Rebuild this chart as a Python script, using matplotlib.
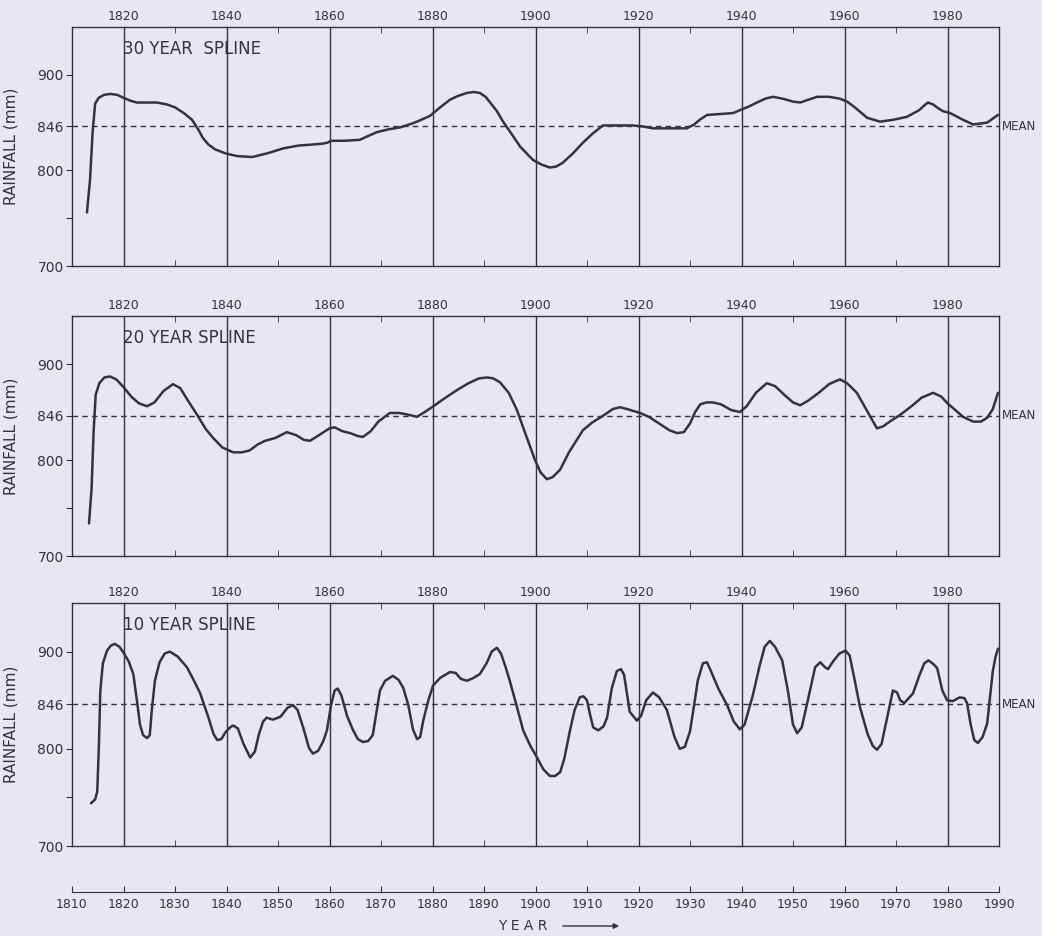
import matplotlib
matplotlib.use('Agg')
import matplotlib.pyplot as plt
import matplotlib.transforms as mtransforms
from matplotlib.patches import FancyArrowPatch

# values (year, rainfall mm)
years30 = [1812.9, 1813.5, 1814.0, 1814.5, 1815.2, 1816.2, 1817.4, 1818.8, 1820.0, 1821.3,
           1822.6, 1824.5, 1826.5, 1828.4, 1830.0, 1831.7, 1833.3, 1834.5, 1835.4, 1836.5,
           1837.8, 1839.7, 1842.0, 1845.0, 1848.0, 1851.0, 1854.0, 1856.5, 1858.7, 1859.6,
           1860.3, 1863.0, 1865.9, 1867.5, 1869.2, 1871.5, 1873.7, 1875.5, 1877.0, 1879.5,
           1881.5, 1883.4, 1885.0, 1886.7, 1888.0, 1889.2, 1890.3, 1891.2, 1892.5, 1893.7,
           1895.5, 1897.0, 1899.5, 1901.2, 1902.8, 1904.0, 1905.3, 1907.3, 1909.2, 1911.2,
           1913.1, 1916.0, 1919.0, 1920.8, 1922.8, 1926.0, 1929.4, 1930.8, 1931.9, 1933.3,
           1936.0, 1938.4, 1939.7, 1941.5, 1943.0, 1944.6, 1946.1, 1948.0, 1950.0, 1951.4,
           1953.0, 1954.7, 1957.0, 1959.1, 1960.5, 1962.0, 1964.4, 1966.9, 1969.5, 1972.1,
           1974.5, 1975.5, 1976.2, 1977.2, 1978.2, 1979.1, 1980.5, 1983.0, 1985.0, 1987.7,
           1989.8]
rain30 = [756, 790, 840, 870, 876, 879, 880, 879, 876, 873,
          871, 871, 871, 869, 866, 860, 853, 843, 834, 827,
          822, 818, 815, 814, 818, 823, 826, 827, 828, 829,
          831, 831, 832, 836, 840, 843, 845, 848, 851, 857,
          866, 874, 878, 881, 882, 881, 877, 871, 862, 851,
          837, 825, 811, 806, 803, 804, 808, 818, 829, 839,
          847, 847, 847, 846, 844, 844, 844, 848, 853, 858,
          859, 860, 863, 867, 871, 875, 877, 875, 872, 871,
          874, 877, 877, 875, 872, 866, 855, 851, 853, 856,
          863, 868, 871, 869, 865, 862, 860, 853, 848, 850,
          858]

years20 = [1813.3, 1813.8, 1814.2, 1814.6, 1815.3, 1816.3, 1817.4, 1818.6, 1820.0, 1821.5,
           1823.0, 1824.6, 1826.0, 1827.8, 1829.6, 1831.0, 1832.5, 1834.3, 1836.0, 1837.4,
           1839.2, 1841.3, 1843.0, 1844.5, 1846.0, 1847.5, 1849.5, 1851.7, 1853.5, 1855.0,
           1856.2, 1858.0, 1860.0, 1861.0, 1862.5, 1864.0, 1865.5, 1866.5, 1868.0, 1869.5,
           1871.7, 1873.5, 1875.5, 1877.0, 1878.5, 1879.9, 1882.0, 1884.8, 1887.0, 1889.0,
           1890.6, 1891.8, 1893.1, 1894.8, 1896.4, 1898.0, 1899.9, 1901.0, 1902.2, 1903.3,
           1904.8, 1906.5, 1909.2, 1911.0, 1913.1, 1915.0, 1916.4, 1917.8, 1920.3, 1922.0,
           1924.0, 1926.0, 1927.5, 1928.8, 1930.0, 1931.0, 1932.0, 1933.2, 1934.5, 1936.0,
           1938.0, 1939.7, 1941.0, 1942.8, 1944.9, 1946.5, 1948.5, 1950.0, 1951.4, 1953.0,
           1955.0, 1957.0, 1959.1, 1960.5, 1962.4, 1964.5, 1966.3, 1967.5, 1968.8, 1970.8,
           1973.0, 1975.0, 1977.2, 1978.8, 1980.0, 1981.1, 1983.0, 1985.0, 1986.5, 1987.7,
           1988.8, 1989.8]
rain20 = [734, 770, 830, 868, 880, 886, 887, 884, 876, 866,
          859, 856, 860, 872, 879, 875, 862, 847, 832, 823,
          813, 808, 808, 810, 816, 820, 823, 829, 826, 821,
          820, 826, 833, 834, 830, 828, 825, 824, 830, 840,
          849, 849, 847, 845, 850, 855, 863, 873, 880, 885,
          886, 885, 881, 870, 852, 828, 800, 787, 780, 782,
          790, 808, 831, 839, 846, 853, 855, 853, 849, 845,
          838, 831, 828, 829, 838, 850, 858, 860, 860, 858,
          852, 850, 856, 870, 880, 877, 867, 860, 857, 862,
          870, 879, 884, 880, 870, 850, 833, 835, 840, 847,
          856, 865, 870, 866, 859, 854, 845, 840, 840, 844,
          853, 870]

years10 = [1813.7, 1814.5, 1814.9, 1815.2, 1815.5, 1816.0, 1816.8, 1817.5, 1818.3, 1819.2,
           1820.0, 1821.0, 1821.9, 1822.6, 1823.2, 1823.8, 1824.6, 1825.1, 1825.5, 1826.1,
           1827.0, 1828.0, 1829.0, 1830.5, 1832.3, 1833.6, 1834.9, 1836.5, 1837.5, 1838.2,
           1839.0, 1839.8, 1840.7, 1841.3, 1842.2, 1843.3, 1844.6, 1845.5, 1846.3, 1847.1,
           1847.8, 1849.0, 1850.5, 1851.8, 1852.9, 1853.8, 1855.0, 1856.0, 1856.8, 1857.8,
           1858.8, 1859.5, 1860.3, 1861.0, 1861.6, 1862.3, 1863.4, 1864.5, 1865.5, 1866.5,
           1867.5, 1868.4, 1869.2, 1869.8, 1870.8, 1872.3, 1873.4, 1874.3, 1875.3, 1876.2,
           1877.0, 1877.6, 1878.2, 1879.2, 1880.1, 1881.5, 1883.4, 1884.5, 1885.5, 1886.7,
           1888.0, 1889.2, 1890.5, 1891.5, 1892.5, 1893.3, 1894.2, 1895.0, 1896.3, 1897.6,
           1899.0, 1900.3, 1901.5, 1902.8, 1903.8, 1904.8, 1905.6, 1906.7, 1907.6, 1908.6,
           1909.3, 1910.0, 1910.6, 1911.2, 1912.2, 1913.2, 1913.9, 1914.8, 1915.8, 1916.6,
           1917.2, 1917.8, 1918.3, 1919.7, 1920.5, 1921.5, 1922.8, 1924.0, 1925.5, 1927.0,
           1928.0, 1929.0, 1930.0, 1930.8, 1931.5, 1932.5, 1933.3, 1933.9, 1935.5, 1937.2,
           1938.5, 1939.7, 1940.6, 1941.4, 1942.2, 1943.5, 1944.5, 1945.5, 1946.5, 1947.9,
           1949.0, 1950.0, 1950.8, 1951.7, 1952.8, 1954.3, 1955.3, 1956.2, 1956.8, 1957.8,
           1959.0, 1960.2, 1961.0, 1962.0, 1963.0, 1964.5, 1965.5, 1966.3, 1967.2, 1968.2,
           1969.4, 1970.2, 1970.8, 1971.6, 1973.3, 1974.5, 1975.5, 1976.3, 1977.3, 1978.0,
           1979.0, 1979.9, 1981.0, 1982.4, 1983.3, 1983.8, 1984.5, 1985.2, 1985.9, 1986.8,
           1987.7, 1988.3, 1988.8, 1989.3, 1989.8]
rain10 = [744, 748, 756, 800, 860, 888, 901, 906, 908, 905,
          899, 890, 877, 850, 825, 814, 811, 814, 840, 870,
          889, 898, 900, 895, 884, 871, 857, 832, 815, 809,
          810, 817, 822, 824, 821, 805, 791, 797, 815, 828,
          832, 830, 833, 842, 845, 840, 820, 801, 795, 798,
          808, 819, 845, 860, 862, 855, 834, 820, 810, 807,
          808, 814, 840, 860, 870, 875, 871, 863, 845, 820,
          810, 812, 829, 850, 865, 873, 879, 878, 872, 870,
          873, 877, 888, 900, 904, 898, 884, 870, 845, 819,
          803, 791, 779, 772, 772, 776, 790, 819, 840, 853,
          854, 850, 835, 822, 819, 823, 832, 862, 880, 882,
          876, 855, 838, 829, 834, 850, 858, 853, 840, 812,
          800, 802, 818, 845, 870, 888, 889, 882, 862, 845,
          828, 820, 825, 840, 855, 885, 905, 911, 905, 891,
          860, 825, 816, 822, 848, 884, 889, 884, 882, 890,
          898, 901, 896, 870, 843, 815, 803, 799, 805, 830,
          860, 858, 850, 847, 857, 875, 888, 891, 887, 883,
          860, 850, 849, 853, 852, 847, 825, 809, 806, 812,
          826, 855, 880, 894, 903]

panels = [
    ('30 YEAR  SPLINE', years30, rain30),
    ('20 YEAR SPLINE', years20, rain20),
    ('10 YEAR SPLINE', years10, rain10),
]

mean_rain = 846
grid_years = list(range(1820, 1981, 20))
minor_years = list(range(1830, 1991, 20))
bottom_years = list(range(1810, 1991, 10))
ytick_vals = [700, 750, 800, 846, 900]
ytick_labels = ['700', '', '800', '846', '900']

bg = '#e8e6f3'
ink = '#33333f'

W, H = 1042, 936
fig = plt.figure(figsize=(W / 100, H / 100), dpi=100, facecolor=bg)
plt.rcParams['font.family'] = ['DejaVu Sans']

# (top, bottom) pixel rows of each panel
rows = [(27, 266), (316, 556), (603, 846)]
left, right = 72, 999

for (title, xs, ys), (top, bot) in zip(panels, rows):
    ax = fig.add_axes([left / W, (H - bot) / H, (right - left) / W, (bot - top) / H])
    ax.set_facecolor(bg)
    ax.set_xlim(1810, 1990)
    ax.set_ylim(700, 950)

    for yr in grid_years:
        ax.axvline(yr, color=ink, lw=1.0)
    ax.axhline(mean_rain, color=ink, lw=1.0, ls=(0, (4, 3)))
    ax.plot(xs, ys, color=ink, lw=1.8, solid_joinstyle='round', solid_capstyle='round')

    for sp in ax.spines.values():
        sp.set_color(ink)
        sp.set_linewidth(1.0)

    ax.set_xticks(grid_years)
    ax.set_xticklabels([str(y) for y in grid_years])
    ax.set_xticks(minor_years, minor=True)
    ax.tick_params(axis='x', which='major', top=True, bottom=False, labeltop=True,
                   labelbottom=False, length=0, pad=3, labelsize=9, labelcolor=ink)
    ax.tick_params(axis='x', which='minor', top=True, bottom=True, direction='in',
                   length=4, color=ink)
    ax.set_yticks(ytick_vals)
    ax.set_yticklabels(ytick_labels)
    ax.tick_params(axis='y', direction='out', length=4, color=ink, labelsize=10,
                   labelcolor=ink, pad=2)

    ax.text(0.055, 0.91, title, transform=ax.transAxes, fontsize=12, color=ink,
            va='center', ha='left')
    ax.set_ylabel('RAINFALL (mm)', fontsize=11, color=ink)
    ax.yaxis.set_label_coords(-0.058, 0.5)

    # mean label just right of the frame
    trans = mtransforms.blended_transform_factory(ax.transAxes, ax.transData)
    ax.text(1.003, mean_rain, 'MEAN', transform=trans, fontsize=8.5, color=ink,
            va='center', ha='left', clip_on=False)

# separate year axis at the bottom
axb = fig.add_axes([left / W, (H - 892) / H, (right - left) / W, 0.0005])
axb.set_facecolor('none')
axb.set_xlim(1810, 1990)
axb.set_yticks([])
for name in ['top', 'left', 'right']:
    axb.spines[name].set_visible(False)
axb.spines['bottom'].set_color(ink)
axb.set_xticks(bottom_years)
axb.set_xticklabels([str(y) for y in bottom_years])
axb.tick_params(axis='x', direction='in', length=4, color=ink, labelsize=9,
                labelcolor=ink, pad=4)

fig.text(523 / W, 1 - 926 / H, 'Y E A R', fontsize=10, color=ink, ha='center', va='center')
fig.add_artist(FancyArrowPatch((560 / W, 1 - 926 / H), (622 / W, 1 - 926 / H),
                               transform=fig.transFigure, arrowstyle='-|>',
                               mutation_scale=8, color=ink, lw=1.0))

fig.savefig('out.png', dpi=100, facecolor=bg)
